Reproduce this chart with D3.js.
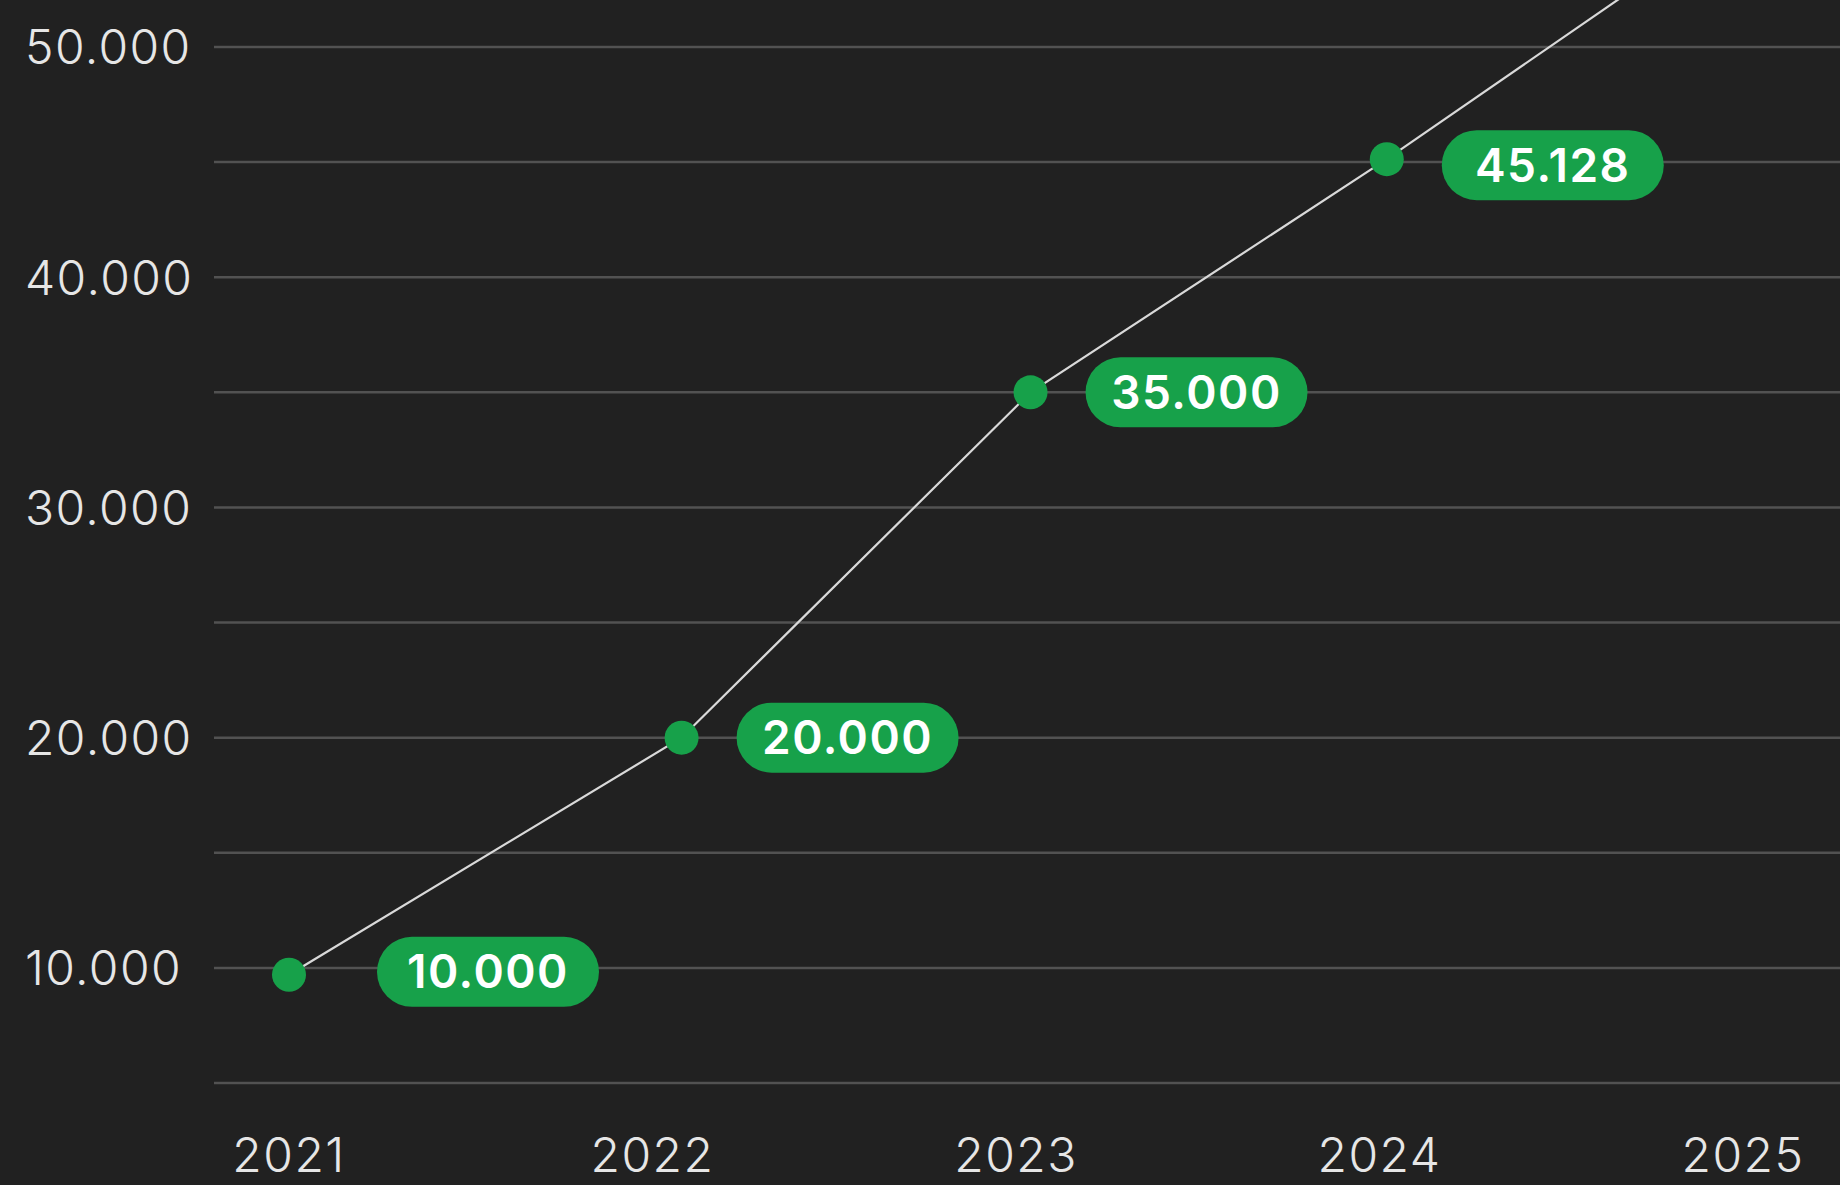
<!DOCTYPE html>
<html>
<head>
<meta charset="utf-8">
<script src="https://cdn.jsdelivr.net/npm/d3@7"></script>
<style>
  html, body { margin: 0; padding: 0; background: #212121; }
  svg { display: block; }
</style>
</head>
<body>
<svg id="chart" width="1840" height="1185"></svg>
<script>
// data
let years = [2021, 2022.08, 2023.04, 2024.02, 2025];
let values = [9700, 20000, 35000, 45128, 55800];
let pointLabels = ["10.000", "20.000", "35.000", "45.128"];
let yearTicks = [2021, 2022, 2023, 2024, 2025];
let gridValues = [5000, 10000, 15000, 20000, 25000, 30000, 35000, 40000, 45000, 50000];
let yTickValues = [10000, 20000, 30000, 40000, 50000];

let green = "#17a14a";
let svg = d3.select("#chart");

let xScale = d3.scaleLinear().domain([2021, 2025]).range([289, 1743]);
let yScale = d3.scaleLinear().domain([5000, 50000]).range([1083, 47]);

let fmt = v => d3.format(",")(v).replace(/,/g, ".");

// gridlines
svg.append("g")
  .selectAll("line")
  .data(gridValues)
  .join("line")
  .attr("x1", 214)
  .attr("x2", 1840)
  .attr("y1", d => yScale(d))
  .attr("y2", d => yScale(d))
  .attr("stroke", "#525252")
  .attr("stroke-width", 2.5);

// y labels
svg.append("g")
  .selectAll("text")
  .data(yTickValues)
  .join("text")
  .attr("x", 25)
  .attr("y", d => yScale(d))
  .attr("dy", "0.36em")
  .attr("font-family", "Inter")
  .attr("font-size", 48)
  .attr("font-weight", 300)
  .attr("letter-spacing", 1.4)
  .attr("fill", "#e6e6e6")
  .text(d => fmt(d));

// x labels
svg.append("g")
  .selectAll("text")
  .data(yearTicks)
  .join("text")
  .attr("x", d => xScale(d))
  .attr("y", 1172)
  .attr("text-anchor", "middle")
  .attr("font-family", "Inter")
  .attr("font-size", 48)
  .attr("font-weight", 300)
  .attr("letter-spacing", 1.5)
  .attr("fill", "#e6e6e6")
  .text(d => d);

// line
let points = years.map((y, i) => ({ year: y, value: values[i] }));
let line = d3.line()
  .x(d => xScale(d.year))
  .y(d => yScale(d.value));

svg.append("path")
  .datum(points)
  .attr("fill", "none")
  .attr("stroke", "#d9d9d9")
  .attr("stroke-width", 2.2)
  .attr("d", line);

// dots + pills only for the labelled points
let shown = points.slice(0, pointLabels.length);

svg.append("g")
  .selectAll("circle")
  .data(shown)
  .join("circle")
  .attr("cx", d => xScale(d.year))
  .attr("cy", d => yScale(d.value))
  .attr("r", 17)
  .attr("fill", green);

let pillW = 222, pillH = 70;
let pills = svg.append("g")
  .selectAll("g")
  .data(shown)
  .join("g")
  .attr("transform", (d, i) => {
    let px = xScale(d.year) + (i === 0 ? 88 : 55);
    let py = yScale(d.value) + (i === 0 ? -3 : i === 3 ? 6 : 0);
    return `translate(${px}, ${py})`;
  });

pills.append("rect")
  .attr("x", 0)
  .attr("y", -pillH / 2)
  .attr("width", pillW)
  .attr("height", pillH)
  .attr("rx", pillH / 2)
  .attr("fill", green);

pills.append("text")
  .attr("x", pillW / 2)
  .attr("y", 0)
  .attr("dy", "0.36em")
  .attr("text-anchor", "middle")
  .attr("font-family", "Inter")
  .attr("font-size", 46)
  .attr("font-weight", 600)
  .attr("letter-spacing", 1.5)
  .attr("fill", "#ffffff")
  .text((d, i) => pointLabels[i]);
</script>
</body>
</html>
